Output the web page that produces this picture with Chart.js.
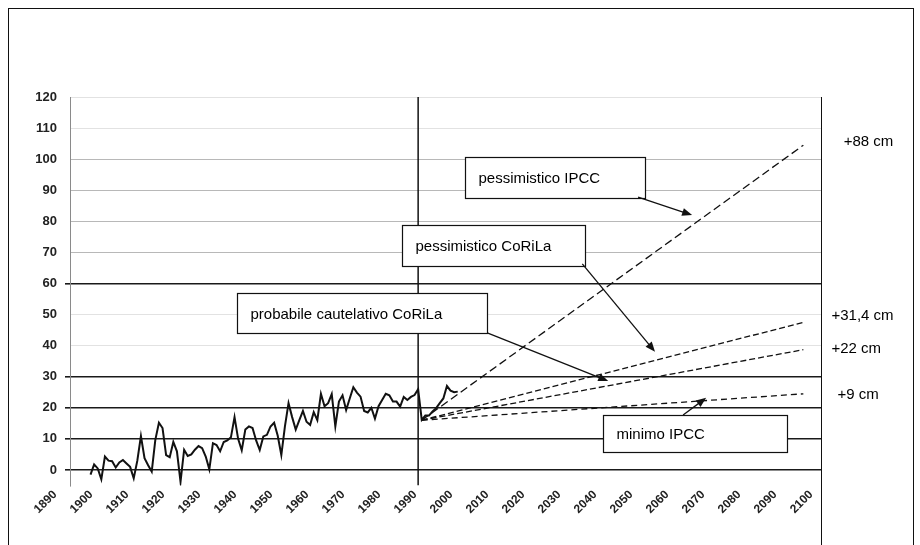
<!DOCTYPE html>
<html>
<head>
<meta charset="utf-8">
<script src="https://cdn.jsdelivr.net/npm/chart.js@4.4.0/dist/chart.umd.min.js"></script>
<style>
  html, body { margin: 0; padding: 0; background: #fff; }
  #wrap { position: relative; width: 920px; height: 545px; overflow: hidden; }
  #frame { position: absolute; left: 8px; top: 8px; width: 904px; height: 600px; border: 1px solid #111; }
  #chart { position: absolute; left: 0; top: 0; }
</style>
</head>
<body>
<div id="wrap">
  <div id="frame"></div>
  <canvas id="chart" width="920" height="545"></canvas>
</div>
<script>
// observed sea level (cm), one value per year from firstYear
const firstYear = 1899;
const observed = [
  -1.5, 1.8, 0.5, -3, 4.3, 3.0, 2.8, 0.8, 2.4, 3.2,
  2.1, 1.0, -2.7, 3, 10.9, 3.8, 1.5, -0.5, 9.7, 15.2,
  13.5, 4.8, 4.1, 9, 6, -3.8, 6.5, 4.5, 5, 6.5,
  7.7, 7, 4.3, 0.2, 8.6, 8, 6, 9, 9.5, 10.5,
  17, 10, 6.3, 13, 14, 13.5, 9.5, 6.4, 10.8, 11.3,
  14, 15.2, 11, 4.8, 14, 21.5, 17, 13, 16, 19,
  15.5, 14.5, 18.6, 16, 24.5, 20.5, 21.5, 24.4, 14, 22,
  24, 19.3, 23, 26.6, 24.9, 23.6, 19, 18.5, 20, 16.5,
  20.5, 22.5, 24.5, 24, 22, 22, 20.4, 23.5, 22.5, 23.5,
  24.1, 26, 16.1, 17.5, 17.5, 18.8, 19.9, 21.5, 23, 27,
  25.5, 25, 25.2
];

// scenarios: start and end of each projection
const projYears = [1991, 2097];
const pessIPCC = [16, 104.5];
const pessCoRiLa = [16, 47.5];
const probCoRiLa = [16, 38.7];
const minIPCC = [16, 24.5];

const markerYear = 1990;

const xTicks = [1890, 1900, 1910, 1920, 1930, 1940, 1950, 1960, 1970, 1980, 1990,
  2000, 2010, 2020, 2030, 2040, 2050, 2060, 2070, 2080, 2090, 2100];
const yTicks = [0, 10, 20, 30, 40, 50, 60, 70, 80, 90, 100, 110, 120];
const strongLines = [0, 10, 20, 30, 60];
const midLines = [70, 80, 90, 100];

const sideLabels = ['+88 cm', '+31,4 cm', '+22 cm', '+9 cm'];

// annotation boxes / arrows / side labels, in data units
const boxes = [
  { text: 'pessimistico IPCC', x0: 2003.1, x1: 2053.1, y0: 100.7, y1: 87.5 },
  { text: 'pessimistico CoRiLa', x0: 1985.6, x1: 2036.4, y0: 78.8, y1: 65.6 },
  { text: 'probabile cautelativo CoRiLa', x0: 1939.7, x1: 2009.2, y0: 56.9, y1: 44.1 },
  { text: 'minimo IPCC', x0: 2041.4, x1: 2092.5, y0: 17.7, y1: 5.8 }
];
const arrows = [
  { from: [2051.1, 87.8], to: [2066.1, 82.0] },
  { from: [2035.6, 66.3], to: [2055.8, 38.0] },
  { from: [2009.2, 44.1], to: [2042.8, 28.6] },
  { from: [2063.6, 17.7], to: [2070.0, 23.2] }
];
const sidePos = [[2108.2, 105.5], [2104.8, 49.6], [2104.8, 38.9], [2106.5, 24.1]];

const ink = '#111';

function pairs(xs, ys) {
  return xs.map((v, i) => ({ x: v, y: ys[i] }));
}

function drawArrow(ctx, x0, y0, x1, y1) {
  const ang = Math.atan2(y1 - y0, x1 - x0);
  const len = 10, half = 4;
  ctx.beginPath();
  ctx.moveTo(x0, y0);
  ctx.lineTo(x1 - Math.cos(ang) * len * 0.8, y1 - Math.sin(ang) * len * 0.8);
  ctx.stroke();
  ctx.beginPath();
  ctx.moveTo(x1, y1);
  ctx.lineTo(x1 - Math.cos(ang) * len - Math.sin(ang) * half, y1 - Math.sin(ang) * len + Math.cos(ang) * half);
  ctx.lineTo(x1 - Math.cos(ang) * len + Math.sin(ang) * half, y1 - Math.sin(ang) * len - Math.cos(ang) * half);
  ctx.closePath();
  ctx.fill();
}

const notesPlugin = {
  id: 'notes',
  afterDatasetsDraw(chart) {
    const { ctx, chartArea } = chart;
    const x = chart.scales.x, y = chart.scales.y;
    ctx.save();

    // right border of the plot
    ctx.strokeStyle = ink;
    ctx.lineWidth = 1;
    ctx.beginPath();
    ctx.moveTo(chartArea.right + 0.5, chartArea.top);
    ctx.lineTo(chartArea.right + 0.5, chart.height);
    ctx.stroke();

    // boxes
    ctx.font = '15px "Liberation Sans", Arial, sans-serif';
    ctx.textBaseline = 'middle';
    ctx.textAlign = 'left';
    boxes.forEach(b => {
      const l = Math.round(x.getPixelForValue(b.x0)) + 0.5;
      const r = Math.round(x.getPixelForValue(b.x1)) + 0.5;
      const t = Math.round(y.getPixelForValue(b.y0)) + 0.5;
      const bt = Math.round(y.getPixelForValue(b.y1)) + 0.5;
      ctx.fillStyle = '#fff';
      ctx.fillRect(l, t, r - l, bt - t);
      ctx.strokeStyle = ink;
      ctx.lineWidth = 1.2;
      ctx.strokeRect(l, t, r - l, bt - t);
      ctx.fillStyle = '#000';
      ctx.fillText(b.text, l + 13, (t + bt) / 2 + 1);
    });

    // arrows
    ctx.strokeStyle = ink;
    ctx.fillStyle = ink;
    ctx.lineWidth = 1.3;
    arrows.forEach(a => {
      drawArrow(ctx,
        x.getPixelForValue(a.from[0]), y.getPixelForValue(a.from[1]),
        x.getPixelForValue(a.to[0]), y.getPixelForValue(a.to[1]));
    });

    // side labels
    ctx.font = '15px "Liberation Sans", Arial, sans-serif';
    ctx.fillStyle = '#000';
    sideLabels.forEach((s, i) => {
      ctx.fillText(s, x.getPixelForValue(sidePos[i][0]), y.getPixelForValue(sidePos[i][1]));
    });
    ctx.restore();
  }
};

const dashed = (dash) => ({
  type: 'line', borderColor: ink, borderWidth: 1.3, borderDash: dash,
  pointRadius: 0, fill: false, tension: 0
});

new Chart(document.getElementById('chart'), {
  type: 'line',
  data: {
    datasets: [
      {
        label: 'osservato',
        data: observed.map((v, i) => ({ x: firstYear + i, y: v })),
        borderColor: ink, borderWidth: 2, pointRadius: 0, tension: 0
      },
      {
        label: '1990',
        data: [{ x: markerYear, y: -5 }, { x: markerYear, y: 120 }],
        borderColor: ink, borderWidth: 1.5, pointRadius: 0
      },
      Object.assign({ label: 'pessimistico IPCC', data: pairs(projYears, pessIPCC) }, dashed([8, 4])),
      Object.assign({ label: 'pessimistico CoRiLa', data: pairs(projYears, pessCoRiLa) }, dashed([6, 3])),
      Object.assign({ label: 'probabile cautelativo CoRiLa', data: pairs(projYears, probCoRiLa) }, dashed([6, 3])),
      Object.assign({ label: 'minimo IPCC', data: pairs(projYears, minIPCC) }, dashed([6, 4]))
    ]
  },
  options: {
    responsive: false,
    animation: false,
    devicePixelRatio: 1,
    layout: { padding: { left: 0, right: 99, top: 97, bottom: 0 } },
    plugins: { legend: { display: false }, tooltip: { enabled: false } },
    scales: {
      x: {
        type: 'linear',
        min: 1893.3,
        max: 2101.9,
        afterBuildTicks: (scale) => { scale.ticks = xTicks.map(v => ({ value: v })); },
        afterFit: (scale) => { scale.height = 59.5; },
        grid: { display: false },
        border: { display: false },
        ticks: {
          autoSkip: false,
          minRotation: 45,
          maxRotation: 45,
          padding: -6,
          labelOffset: -3,
          color: '#222',
          font: { family: '"Liberation Sans", Arial, sans-serif', size: 12, weight: 'bold' },
          callback: (v) => String(v)
        }
      },
      y: {
        min: -5,
        max: 120,
        afterBuildTicks: (scale) => { scale.ticks = yTicks.map(v => ({ value: v })); },
        afterFit: (scale) => { scale.width = 70; },
        grid: {
          color: (c) => strongLines.includes(c.tick.value) ? '#1a1a1a'
            : midLines.includes(c.tick.value) ? '#b8b8b8' : '#e2e2e2',
          lineWidth: (c) => strongLines.includes(c.tick.value) ? 1.6 : 1,
          tickLength: 5,
          tickColor: (c) => strongLines.includes(c.tick.value) ? '#1a1a1a' : 'rgba(0,0,0,0)'
        },
        border: { display: true, color: '#8a8a8a', width: 1 },
        ticks: {
          padding: 8,
          color: '#222',
          font: { family: '"Liberation Sans", Arial, sans-serif', size: 13, weight: 'bold' }
        }
      }
    }
  },
  plugins: [notesPlugin]
});
</script>
</body>
</html>
